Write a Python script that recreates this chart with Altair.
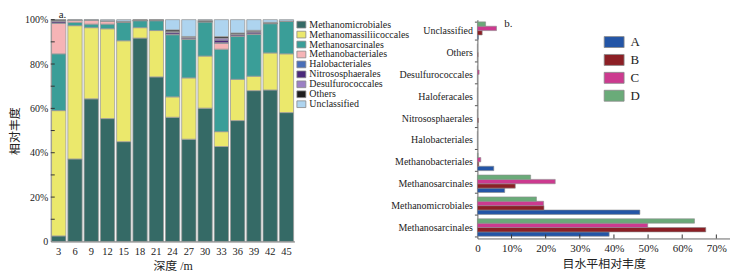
import altair as alt
import pandas as pd

FONT = "Liberation Serif, Noto Sans CJK SC"

# ---------- panel a: relative abundance by depth ----------
depths = [3, 6, 9, 12, 15, 18, 21, 24, 27, 30, 33, 36, 39, 42, 45]
orders_a = ["Methanomicrobiales", "Methanomassiliicoccales", "Methanosarcinales",
            "Methanobacteriales", "Halobacteriales", "Nitrososphaerales",
            "Desulfurococcales", "Others", "Unclassified"]
colors_a = ["#356a66", "#ebe86c", "#3a9e98", "#f6b4b6", "#4a6fb8",
            "#4b2a7b", "#9b80c4", "#1f1f1f", "#aed4ef"]

methanomicrobiales = [2.5, 37.2, 64.3, 55.4, 45.0, 91.7, 74.2, 56.0, 46.2, 60.1, 42.8, 54.5, 68.0, 68.3, 58.1]
methanomassiliicoccales = [56.5, 60.1, 32.1, 40.5, 45.5, 4.7, 20.9, 9.2, 27.7, 23.5, 6.7, 18.6, 6.5, 16.7, 26.5]
methanosarcinales = [25.6, 1.5, 1.6, 2.1, 8.3, 3.2, 4.5, 28.0, 17.5, 15.5, 37.2, 19.3, 18.8, 13.2, 14.6]
methanobacteriales = [13.7, 0.9, 1.7, 1.4, 0.1, 0.0, 0.0, 0.3, 0.2, 0.0, 2.6, 0.2, 0.3, 0.1, 0.0]
halobacteriales = [0.2, 0.0, 0.0, 0.0, 0.0, 0.0, 0.0, 0.0, 0.0, 0.0, 0.3, 0.1, 0.0, 0.0, 0.0]
nitrososphaerales = [0.8, 0.0, 0.0, 0.0, 0.0, 0.0, 0.0, 0.8, 0.6, 0.0, 1.2, 0.6, 0.8, 0.0, 0.0]
desulfurococcales = [0.2, 0.0, 0.0, 0.0, 0.0, 0.0, 0.0, 0.3, 0.2, 0.0, 0.9, 0.2, 0.3, 0.0, 0.0]
others = [0.5, 0.1, 0.1, 0.1, 0.4, 0.4, 0.4, 0.8, 0.2, 0.6, 0.7, 0.5, 0.5, 0.5, 0.2]
unclassified = [0.0, 0.2, 0.2, 0.5, 0.7, 0.0, 0.0, 4.6, 7.6, 0.3, 7.6, 6.0, 4.8, 1.2, 0.6]

series_a = [methanomicrobiales, methanomassiliicoccales, methanosarcinales,
            methanobacteriales, halobacteriales, nitrososphaerales,
            desulfurococcales, others, unclassified]

ticks_a = [0.1, 0.2, 0.3, 0.4, 0.5, 0.6, 0.7, 0.8, 0.9, 1.0]
labels_a = [0, 0.2, 0.4, 0.6, 0.8, 1.0]

# ---------- panel b: order-level abundance per site ----------
cats_b = ["Unclassified", "Others", "Desulfurococcales", "Haloferacales",
          "Nitrososphaerales", "Halobacteriales", "Methanobacteriales",
          "Methanosarcinales", "Methanomicrobiales", "Methanosarcinales"]
sites = ["A", "B", "C", "D"]
colors_b = ["#2355a6", "#8c1f25", "#cc3a8f", "#6aab79"]
site_A = [0.3, 0.0, 0.0, 0.0, 0.0, 0.0, 4.8, 8.0, 47.6, 38.6]
site_B = [1.4, 0.2, 0.0, 0.0, 0.3, 0.0, 0.4, 11.1, 19.5, 66.9]
site_C = [5.6, 0.0, 0.5, 0.0, 0.0, 0.0, 1.0, 22.8, 19.4, 49.9]
site_D = [2.4, 0.0, 0.0, 0.0, 0.0, 0.0, 0.2, 15.6, 17.3, 63.6]
series_b = [site_A, site_B, site_C, site_D]
ticks_b = [0.1, 0.2, 0.3, 0.4, 0.5, 0.6, 0.7]
labels_b = [0, 0.1, 0.2, 0.3, 0.4, 0.5, 0.6, 0.7]

# ---------- tables ----------
rows_a = []
for i, (name, vals) in enumerate(zip(orders_a, series_a)):
    for d, v in zip(depths, vals):
        rows_a.append({"depth": str(d), "order": name, "idx": i, "pct": v})
df_a = pd.DataFrame(rows_a)

keys_b = [str(i) for i in range(len(cats_b))]
rows_b = []
for s, vals in zip(sites, series_b):
    for k, v in zip(keys_b, vals):
        rows_b.append({"key": k, "site": s, "val": v / 100.0})
df_b = pd.DataFrame(rows_b)

pct_expr = "datum.value == 0 ? '0' : format(datum.value, '.0%')"
cat_expr = "[" + ",".join("'%s'" % c for c in cats_b) + "][toNumber(datum.value)]"

W_A, H_A = 245, 223
W_B, H_B = 254, 220

y_axis_a = alt.Axis(title="相对丰度", values=labels_a, labelExpr=pct_expr,
                    ticks=False, tickSize=0, grid=False, labelPadding=3,
                    labelFontSize=10, titleFontSize=12, titlePadding=3,
                    labelOverlap=False, titleFontWeight="normal")
x_axis_b = alt.Axis(title="目水平相对丰度", values=labels_b, labelExpr=pct_expr,
                    ticks=False, tickSize=0, grid=False, labelPadding=4,
                    labelOverlap=False, labelFlush=False, labelFontSize=11,
                    titleFontSize=12, titlePadding=5, titleFontWeight="normal")

bars_a = alt.Chart(df_a).mark_bar(stroke="#9a9a9a", strokeWidth=0.8).encode(
    x=alt.X("depth:N", sort=[str(d) for d in depths],
            scale=alt.Scale(paddingInner=0.12, paddingOuter=0.05),
            axis=alt.Axis(title="深度 /m", labelAngle=0, ticks=False, tickSize=0,
                          labelPadding=5, labelFontSize=10.5, titlePadding=4,
                          titleFontSize=12, titleFontWeight="normal")),
    y=alt.Y("pct:Q", stack="normalize", scale=alt.Scale(domain=[0, 1], nice=False),
            axis=y_axis_a),
    color=alt.Color("order:N", scale=alt.Scale(domain=orders_a, range=colors_a),
                    legend=alt.Legend(title=None, orient="none", legendX=247, legendY=0,
                                      symbolType="M-1,-0.75H1V0.75H-1Z", symbolSize=81,
                                      symbolStrokeColor="#888", symbolStrokeWidth=0.8,
                                      symbolOpacity=1, labelFontSize=10, labelOffset=3,
                                      rowPadding=-0.5, padding=0)),
    order=alt.Order("idx:Q", sort="ascending"),
)

tick_rules_a = alt.Chart(pd.DataFrame({"t": ticks_a})).mark_rule(
    color="#333", strokeWidth=1).encode(
    y=alt.Y("t:Q", axis=y_axis_a), x=alt.value(0), x2=alt.value(4))

label_a = alt.Chart(pd.DataFrame({"lab": ["a."]})).mark_text(
    font=FONT, fontSize=11, align="left", baseline="alphabetic", color="#222").encode(
    text="lab:N", x=alt.value(8), y=alt.value(-2))

left = alt.layer(bars_a, tick_rules_a, label_a).properties(width=W_A, height=H_A)

bars_b = alt.Chart(df_b).mark_bar(stroke="#8c8c8c", strokeWidth=0.6).encode(
    y=alt.Y("key:N", sort=keys_b,
            scale=alt.Scale(paddingInner=0.2, paddingOuter=0.1),
            axis=alt.Axis(title=None, labelExpr=cat_expr, tickBand="extent", tickSize=3,
                          tickColor="#555", labelPadding=2, labelFontSize=10)),
    yOffset=alt.YOffset("site:N", sort=["D", "C", "B", "A"]),
    x=alt.X("val:Q", scale=alt.Scale(domain=[0, 0.74], nice=False), axis=x_axis_b),
    color=alt.Color("site:N", scale=alt.Scale(domain=sites, range=colors_b),
                    legend=alt.Legend(title=None, orient="none", legendX=127, legendY=12,
                                      symbolType="M-1,-0.55H1V0.55H-1Z", symbolSize=400,
                                      symbolStrokeColor="#888", symbolStrokeWidth=0.8,
                                      symbolOpacity=1, labelFontSize=13, labelOffset=6,
                                      rowPadding=-0.5, padding=0)),
)

tick_rules_b = alt.Chart(pd.DataFrame({"t": ticks_b})).mark_rule(
    color="#333", strokeWidth=1).encode(
    x=alt.X("t:Q", axis=x_axis_b), y=alt.value(H_B - 4), y2=alt.value(H_B))

label_b = alt.Chart(pd.DataFrame({"lab": ["b."]})).mark_text(
    font=FONT, fontSize=11, align="left", baseline="alphabetic", color="#222").encode(
    text="lab:N", x=alt.value(27), y=alt.value(7))

right = alt.layer(bars_b, tick_rules_b, label_b).properties(width=W_B, height=H_B)

chart = alt.hconcat(left, right, spacing=184, bounds="flush").resolve_scale(
    color="independent").properties(
    padding={"left": 0, "top": 0, "right": 0, "bottom": 0}
).configure(font=FONT).configure_view(stroke=None).configure_axis(
    labelFont=FONT, titleFont=FONT, labelColor="#222", titleColor="#222",
    domainColor="#666", domainWidth=1, labelOverlap=False
).configure_legend(labelFont=FONT, labelColor="#222")

chart.save("out.html", embed_options={"renderer": "svg", "actions": False})
